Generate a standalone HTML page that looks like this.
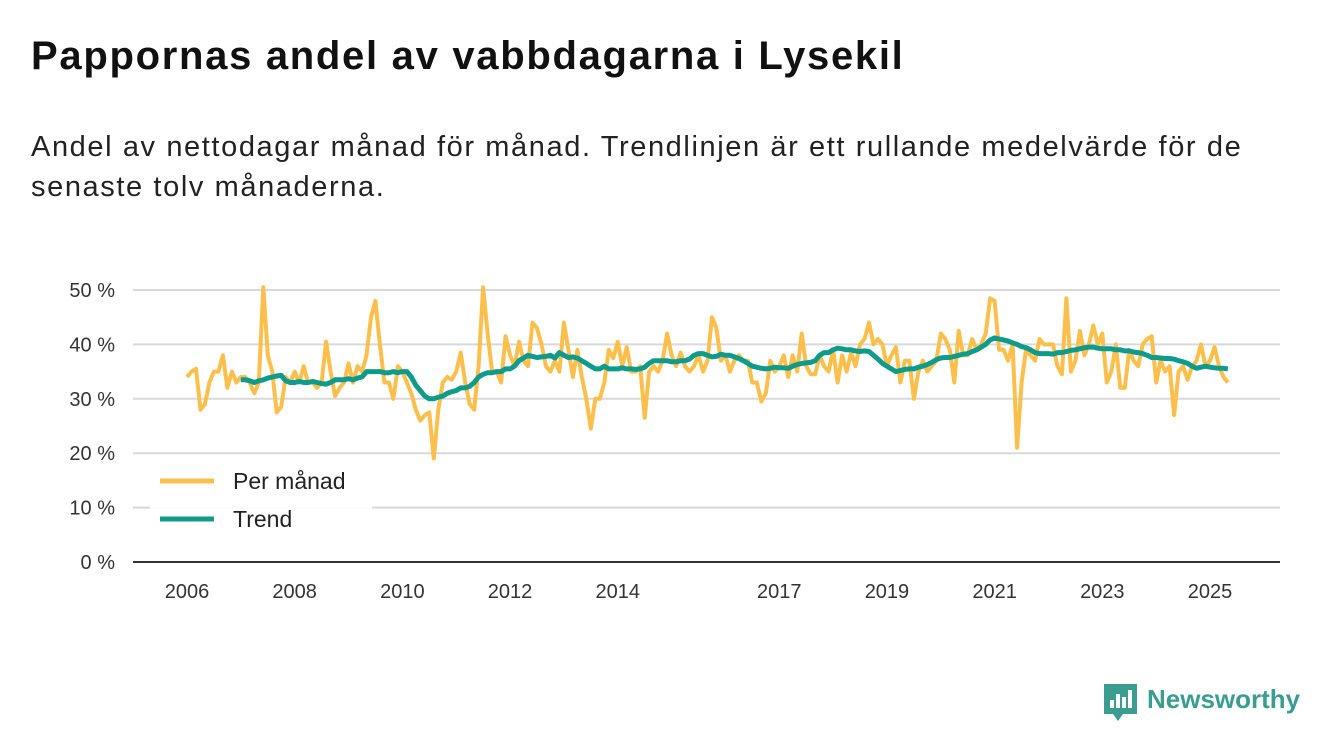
<!DOCTYPE html>
<html><head><meta charset="utf-8">
<style>
body{margin:0;background:#fff;font-family:"Liberation Sans","DejaVu Sans",sans-serif;}
#wrap{position:relative;width:1340px;height:753px;overflow:hidden;}
h1{position:absolute;left:31px;top:34px;margin:0;font-size:40px;font-weight:bold;color:#111;letter-spacing:1.7px;white-space:nowrap;}
p.sub{position:absolute;left:31px;top:127px;margin:0;font-size:29px;line-height:40px;color:#222;width:1265px;letter-spacing:1.6px;}
svg{position:absolute;left:0;top:0;}
</style></head><body>
<div id="wrap">
<h1>Pappornas andel av vabbdagarna i Lysekil</h1>
<p class="sub">Andel av nettodagar månad för månad. Trendlinjen är ett rullande medelvärde för de senaste tolv månaderna.</p>
<svg id="chart" width="1340" height="753"></svg>
</div>
<script>
const monthly=[34,35,35.5,28,29,33,35,35,38,32,35,33,
34,34,33,31,33,50.5,38,35,27.5,28.5,34,33,
35,33,36,33,33,32,33,40.5,35,30.5,32,33,
36.5,33,36,35,38,45,48,40,33,33,30,36,
35,33,31,28,26,27,27.5,19,28,33,34,33.5,
35,38.5,33,29,28,36,50.5,42,35,35,33,41.5,
38,36,40.5,37,36,44,43,40,36,35,37,35,
44,39,34,39,34,30,24.5,30,30,33,39,37.5,
40.5,36,39.5,35,35,36,26.5,35,36,35,37,42,
38,36,38.5,36,35,36,38,35,37,45,43,37,
38,35,37,38,37,37,33,33,29.5,31,37,35,
36,38,34,38,35,42,36,34.5,34.5,38,36,35,
39,33,38,35,38.5,36,40,41,44,40,41,40,
36,38,39.5,33,37,37,30,35,37,35,36,37,
42,41,39,33,42.5,38,38,41,39,40,42,48.5,
48,39,39,37,40,21,33,39,38,37,41,40,
40,40,36,34.5,48.5,35,37,42.5,38,40,43.5,40,
42,33,35,40,32,32,39,37,36,40,41,41.5,
33,37,35,36,27,35,36,33.5,36,37,40,36,
37,39.5,36,34,33];
const trendStart=12;
const trend=[33.5,33.5,33.3,33,33.3,33.5,33.8,34,34.2,34.3,33.3,33,
33,33.2,33,33,33.2,33,32.8,32.7,33,33.5,33.5,33.5,
33.7,33.5,33.8,34,35,35,35,35,34.8,34.8,35,34.8,
35,35,34,32.5,31.5,30.5,30,30,30.3,30.5,31,31.3,
31.5,32,32,32.3,33,34,34.5,34.8,34.8,35,35,35.5,
35.5,36,37,37.5,38,37.8,37.6,37.7,37.8,38,37.5,38.5,
38,37.6,37.7,37.5,37,36.5,36,35.5,35.5,36,35.5,35.5,
35.5,35.7,35.5,35.5,35.4,35.5,35.8,36.5,37,37,37,37,
36.8,36.8,37,37,37.3,38,38.3,38.3,38,37.7,37.8,38.2,
38,38,37.7,37.4,37,36.5,36,35.8,35.6,35.5,35.6,35.8,
35.7,35.7,35.6,36,36.3,36.5,36.6,36.7,37,38,38.5,38.5,
39,39.3,39.2,39,39,38.8,38.7,38.8,38.7,38,37.3,36.5,
36,35.5,35,35.2,35.4,35.5,35.5,35.8,36,36.3,36.7,37.2,
37.5,37.6,37.6,37.8,38,38.2,38.3,38.7,39,39.5,40,40.8,
41.2,41,40.8,40.6,40.3,40,39.6,39.4,39,38.5,38.3,38.3,
38.3,38.2,38.5,38.5,38.7,38.9,39,39.2,39.4,39.5,39.5,39.3,
39.2,39.2,39.2,39,39,38.8,38.8,38.6,38.5,38.3,38,37.6,
37.6,37.5,37.4,37.4,37.3,37,36.8,36.5,36,35.6,35.8,36,
35.8,35.7,35.6,35.6,35.5];
const yTicks=[0,10,20,30,40,50];
const xTickYears=[2006,2008,2010,2012,2014,2017,2019,2021,2023,2025];
const startYear=2006;

const NS="http://www.w3.org/2000/svg";
const svg=document.getElementById('chart');
const x=m=>187+m*(1210-187)/(19*12);
const y=v=>562-v*(562-290)/50;
function mk(t,a){const e=document.createElementNS(NS,t);for(const k in a)e.setAttribute(k,a[k]);svg.appendChild(e);return e;}
yTicks.forEach(v=>{
  const l=mk('line',{x1:133,x2:1280,y1:y(v),y2:y(v),stroke:v===0?'#333':'#d9d9d9','stroke-width':2});
  
  
  const t=mk('text',{x:115,y:y(v)+7,'text-anchor':'end','font-size':20,fill:'#333'});
  t.textContent=v+' %';
  
  
});
xTickYears.forEach(yr=>{
  const xx=x((yr-startYear)*12);
  const t=mk('text',{x:xx,y:598,'text-anchor':'middle','font-size':20,fill:'#333'});
  t.textContent=yr;
  
  
});
const p1=monthly.map((v,i)=>(i?'L':'M')+x(i).toFixed(1)+','+y(v).toFixed(1)).join('');
const m=mk('path',{d:p1,fill:'none',stroke:'#fdbf4b','stroke-width':4,'stroke-linejoin':'round'});


const p2=trend.map((v,i)=>(i?'L':'M')+x(i+trendStart).toFixed(1)+','+y(v).toFixed(1)).join('');
const tr=mk('path',{d:p2,fill:'none',stroke:'#0e9b8b','stroke-width':5,'stroke-linejoin':'round'});


const bg=mk('rect',{x:150,y:462,width:222,height:76,fill:'#fff','fill-opacity':0.9});


[['Per månad','#fdbf4b',481],['Trend','#0e9b8b',519]].forEach(d=>{
  const l=mk('line',{x1:160,x2:214,y1:d[2],y2:d[2],stroke:d[1],'stroke-width':5});
  
  
  const t=mk('text',{x:233,y:d[2]+8,'font-size':23,fill:'#222'});
  t.textContent=d[0];
  
  
});
const g=mk('g',{});


const r=document.createElementNS(NS,'path');
r.setAttribute('d','M1104,684h33v30h-14l-5,7l-5,-7h-9z');r.setAttribute('fill','#3a9d8f');g.appendChild(r);
[[1110,700,4,8],[1116,694,4,14],[1122,697,4,11],[1128,690,4,18]].forEach(b=>{const e=document.createElementNS(NS,'rect');e.setAttribute('x',b[0]);e.setAttribute('y',b[1]);e.setAttribute('width',b[2]);e.setAttribute('height',b[3]);e.setAttribute('fill','#fff');g.appendChild(e);});
const lt=document.createElementNS(NS,'text');
lt.setAttribute('x',1147);lt.setAttribute('y',708);lt.setAttribute('font-size',26);lt.setAttribute('font-weight','bold');lt.setAttribute('fill','#3a9d8f');
lt.textContent='Newsworthy';g.appendChild(lt);
</script>
</body></html>
